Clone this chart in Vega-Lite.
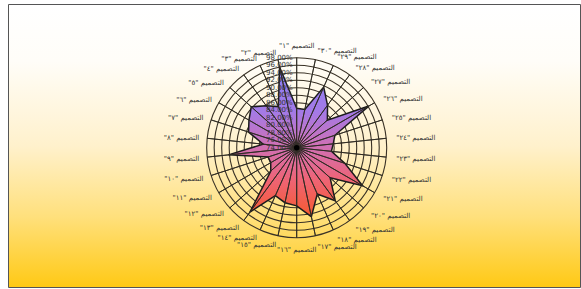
{
  "$schema": "https://vega.github.io/schema/vega-lite/v6.json",
  "width": 572,
  "height": 283,
  "autosize": "none",
  "padding": {"left": 8, "top": 4, "right": 1, "bottom": 2},
  "background": "white",
  "config": {
    "view": {
      "fill": {"gradient": "linear", "x1": 0, "y1": 0, "x2": 0, "y2": 1,
        "stops": [
          {"offset": 0, "color": "#ffffff"},
          {"offset": 0.2, "color": "#fffdf8"},
          {"offset": 0.5, "color": "#fff1cc"},
          {"offset": 0.75, "color": "#ffe07c"},
          {"offset": 1, "color": "#ffc914"}
        ]},
      "stroke": "#555555",
      "strokeWidth": 1
    },
    "text": {"font": "DejaVu Sans"}
  },
  "datasets": {
    "cats": [
      {"k": 1, "label": "‏التصميم \"١\"‏", "v": 84.5},
      {"k": 2, "label": "‏التصميم \"٢\"‏", "v": 96.0},
      {"k": 3, "label": "‏التصميم \"٣\"‏", "v": 86.0},
      {"k": 4, "label": "‏التصميم \"٤\"‏", "v": 87.8},
      {"k": 5, "label": "‏التصميم \"٥\"‏", "v": 90.3},
      {"k": 6, "label": "‏التصميم \"٦\"‏", "v": 88.7},
      {"k": 7, "label": "‏التصميم \"٧\"‏", "v": 87.5},
      {"k": 8, "label": "‏التصميم \"٨\"‏", "v": 83.0},
      {"k": 9, "label": "‏التصميم \"٩\"‏", "v": 92.3},
      {"k": 10, "label": "‏التصميم \"١٠\"‏", "v": 82.0},
      {"k": 11, "label": "‏التصميم \"١١\"‏", "v": 82.0},
      {"k": 12, "label": "‏التصميم \"١٢\"‏", "v": 83.3},
      {"k": 13, "label": "‏التصميم \"١٣\"‏", "v": 95.2},
      {"k": 14, "label": "‏التصميم \"١٤\"‏", "v": 88.0},
      {"k": 15, "label": "‏التصميم \"١٥\"‏", "v": 89.0},
      {"k": 16, "label": "‏التصميم \"١٦\"‏", "v": 89.5},
      {"k": 17, "label": "‏التصميم \"١٧\"‏", "v": 92.8},
      {"k": 18, "label": "‏التصميم \"١٨\"‏", "v": 87.5},
      {"k": 19, "label": "‏التصميم \"١٩\"‏", "v": 91.5},
      {"k": 20, "label": "‏التصميم \"٢٠\"‏", "v": 86.0},
      {"k": 21, "label": "‏التصميم \"٢١\"‏", "v": 94.3},
      {"k": 22, "label": "‏التصميم \"٢٢\"‏", "v": 87.5},
      {"k": 23, "label": "‏التصميم \"٢٣\"‏", "v": 83.3},
      {"k": 24, "label": "‏التصميم \"٢٤\"‏", "v": 83.8},
      {"k": 25, "label": "‏التصميم \"٢٥\"‏", "v": 84.7},
      {"k": 26, "label": "‏التصميم \"٢٦\"‏", "v": 96.2},
      {"k": 27, "label": "‏التصميم \"٢٧\"‏", "v": 85.0},
      {"k": 28, "label": "‏التصميم \"٢٨\"‏", "v": 88.0},
      {"k": 29, "label": "‏التصميم \"٢٩\"‏", "v": 91.7},
      {"k": 30, "label": "‏التصميم \"٣٠\"‏", "v": 84.4}
    ],
    "rings": [
      {"ring": 74, "lab": "74.00%"},
      {"ring": 76, "lab": "76.00%"},
      {"ring": 78, "lab": "78.00%"},
      {"ring": 80, "lab": "80.00%"},
      {"ring": 82, "lab": "82.00%"},
      {"ring": 84, "lab": "84.00%"},
      {"ring": 86, "lab": "86.00%"},
      {"ring": 88, "lab": "88.00%"},
      {"ring": 90, "lab": "90.00%"},
      {"ring": 92, "lab": "92.00%"},
      {"ring": 94, "lab": "94.00%"},
      {"ring": 96, "lab": "96.00%"},
      {"ring": 98, "lab": "98.00%"}
    ]
  },
  "layer": [
    {
      "data": {"name": "rings"},
      "transform": [{"filter": "datum.ring > 74"}],
      "mark": {"type": "arc", "filled": false, "stroke": "#3a3226", "strokeWidth": 1.1, "theta": 0, "theta2": 6.283185307179586},
      "encoding": {
        "x": {"datum": 0, "type": "quantitative", "scale": {"domain": [-288.7, 283.3], "nice": false, "zero": false}, "axis": null},
        "y": {"datum": 0, "type": "quantitative", "scale": {"domain": [-139.3, 143.7], "nice": false, "zero": false}, "axis": null},
        "radius": {"field": "ring", "type": "quantitative", "scale": {"type": "linear", "domain": [74, 98], "range": [0, 90], "zero": false, "nice": false}},
        "radius2": {"datum": 74}
      }
    },
    {
      "data": {"name": "cats"},
      "transform": [
        {"calculate": "-(datum.v - 74) * 3.75 * sin((datum.k - 1) * PI / 15)", "as": "px"},
        {"calculate": "(datum.v - 74) * 3.75 * cos((datum.k - 1) * PI / 15)", "as": "py"}
      ],
      "mark": {"type": "line", "interpolate": "linear-closed", "stroke": "#1c1c1c", "strokeWidth": 1.5,
        "fill": {"gradient": "linear", "x1": 0, "y1": 0, "x2": 0, "y2": 1,
          "stops": [
            {"offset": 0, "color": "#8a80f4"},
            {"offset": 0.3, "color": "#a47ae6"},
            {"offset": 0.55, "color": "#d36fb0"},
            {"offset": 0.75, "color": "#ee6476"},
            {"offset": 1, "color": "#f65a30"}
          ]}},
      "encoding": {
        "x": {"field": "px", "type": "quantitative", "scale": {"domain": [-288.7, 283.3], "nice": false, "zero": false}, "axis": null},
        "y": {"field": "py", "type": "quantitative", "scale": {"domain": [-139.3, 143.7], "nice": false, "zero": false}, "axis": null},
        "order": {"field": "k", "type": "quantitative"}
      }
    },
    {
      "data": {"name": "cats"},
      "mark": {"type": "arc", "filled": false, "radius": 90, "stroke": "#2e2a22", "strokeWidth": 0.9},
      "encoding": {
        "x": {"datum": 0, "type": "quantitative", "scale": {"domain": [-288.7, 283.3], "nice": false, "zero": false}, "axis": null},
        "y": {"datum": 0, "type": "quantitative", "scale": {"domain": [-139.3, 143.7], "nice": false, "zero": false}, "axis": null},
        "theta": {"field": "k", "type": "quantitative", "stack": null, "scale": {"domain": [1, 31], "range": [6.283185307179586, 0], "zero": false, "nice": false}},
        "theta2": {"field": "k"}
      }
    },
    {
      "data": {"values": [{"c": 0}]},
      "mark": {"type": "point", "filled": true, "color": "#000000", "size": 30, "opacity": 1},
      "encoding": {
        "x": {"datum": 0, "type": "quantitative", "scale": {"domain": [-288.7, 283.3], "nice": false, "zero": false}, "axis": null},
        "y": {"datum": 0, "type": "quantitative", "scale": {"domain": [-139.3, 143.7], "nice": false, "zero": false}, "axis": null}
      }
    },
    {
      "data": {"name": "rings"},
      "mark": {"type": "text", "align": "right", "baseline": "middle", "dx": -4, "fontSize": 7, "fill": "#333333"},
      "encoding": {
        "x": {"datum": 0, "type": "quantitative", "scale": {"domain": [-288.7, 283.3], "nice": false, "zero": false}, "axis": null},
        "y": {"datum": 0, "type": "quantitative", "scale": {"domain": [-139.3, 143.7], "nice": false, "zero": false}, "axis": null},
        "theta": {"value": 0},
        "radius": {"field": "ring", "type": "quantitative", "scale": {"type": "linear", "domain": [74, 98], "range": [0, 90], "zero": false, "nice": false}},
        "text": {"field": "lab"}
      }
    },
    {
      "data": {"name": "cats"},
      "transform": [{"filter": "datum.k >= 17"}],
      "mark": {"type": "text", "align": "left", "baseline": "middle", "dy": 1, "fontSize": 7, "fill": "#333333"},
      "encoding": {
        "x": {"datum": 0, "type": "quantitative", "scale": {"domain": [-288.7, 283.3], "nice": false, "zero": false}, "axis": null},
        "y": {"datum": 0, "type": "quantitative", "scale": {"domain": [-139.3, 143.7], "nice": false, "zero": false}, "axis": null},
        "theta": {"field": "k", "type": "quantitative", "stack": null, "scale": {"domain": [1, 31], "range": [6.283185307179586, 0], "zero": false, "nice": false}},
        "radius": {"value": 100},
        "text": {"field": "label"}
      }
    },
    {
      "data": {"name": "cats"},
      "transform": [{"filter": "datum.k >= 2 && datum.k <= 15"}],
      "mark": {"type": "text", "align": "right", "baseline": "middle", "dy": 1, "fontSize": 7, "fill": "#333333"},
      "encoding": {
        "x": {"datum": 0, "type": "quantitative", "scale": {"domain": [-288.7, 283.3], "nice": false, "zero": false}, "axis": null},
        "y": {"datum": 0, "type": "quantitative", "scale": {"domain": [-139.3, 143.7], "nice": false, "zero": false}, "axis": null},
        "theta": {"field": "k", "type": "quantitative", "stack": null, "scale": {"domain": [1, 31], "range": [6.283185307179586, 0], "zero": false, "nice": false}},
        "radius": {"value": 98},
        "text": {"field": "label"}
      }
    },
    {
      "data": {"name": "cats"},
      "transform": [{"filter": "datum.k == 1 || datum.k == 16"}],
      "mark": {"type": "text", "align": "center", "baseline": "middle", "fontSize": 7, "fill": "#333333"},
      "encoding": {
        "x": {"datum": 0, "type": "quantitative", "scale": {"domain": [-288.7, 283.3], "nice": false, "zero": false}, "axis": null},
        "y": {"datum": 0, "type": "quantitative", "scale": {"domain": [-139.3, 143.7], "nice": false, "zero": false}, "axis": null},
        "theta": {"field": "k", "type": "quantitative", "stack": null, "scale": {"domain": [1, 31], "range": [6.283185307179586, 0], "zero": false, "nice": false}},
        "radius": {"value": 102},
        "text": {"field": "label"}
      }
    }
  ]
}
